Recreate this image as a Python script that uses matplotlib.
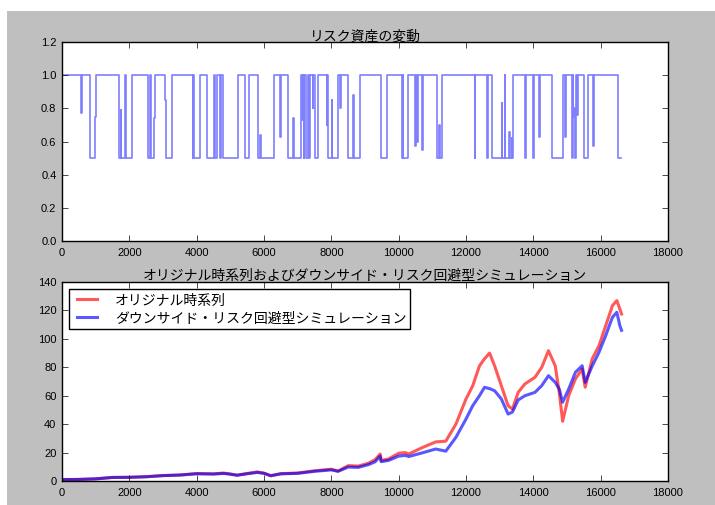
import matplotlib
matplotlib.use("Agg")
import matplotlib.pyplot as plt
from matplotlib.patches import Rectangle

plt.style.use("classic")
plt.rcParams["font.family"] = ["Liberation Sans", "Noto Sans CJK JP", "DejaVu Sans"]

# --- risk-asset weight: level changes (day index, new level) ---
risk_days = [0, 570, 600, 830, 980, 1000, 1700, 1740, 1760, 1860, 1910, 2080,
             2540, 2620, 2650, 2740, 2760, 3060, 3075, 3270, 3880, 3900, 3920,
             4100, 4300, 4520, 4550, 4600, 4700, 4720, 4770, 5240, 5430, 5540,
             5830, 5880, 5900, 6290, 6475, 6495, 6720, 6870, 6890, 7110, 7130,
             7150, 7180, 7200, 7260, 7300, 7330, 7380, 7450, 7470, 7515, 7614,
             7860, 7880, 7910, 8010, 8030, 8210, 8260, 8280, 8500, 8650, 8670,
             8850, 9490, 9640, 10090, 10120, 10140, 10290, 10480, 10500, 10540,
             10560, 10690, 10730, 11130, 11200, 11220, 11280, 12260, 12280,
             12610, 12660, 12760, 13060, 13080, 13150, 13170, 13280, 13300,
             13360, 13380, 13400, 13750, 13780, 14000, 14030, 14170, 14190,
             14540, 14890, 14940, 14960, 15150, 15170, 15190, 15220, 15240,
             15270, 15290, 15320, 15500, 15630, 15780, 15800, 16500, 16600]
risk_levels = [1.0, 0.77, 1.0, 0.5, 0.75, 1.0, 0.5, 0.79, 0.5, 1.0, 0.5, 1.0,
               0.5, 1.0, 0.5, 0.74, 1.0, 0.85, 0.5, 1.0, 0.5, 1.0, 0.5,
               1.0, 0.5, 1.0, 0.5, 1.0, 0.5, 1.0, 0.5, 1.0, 0.5, 1.0,
               0.5, 0.64, 0.5, 1.0, 0.63, 1.0, 0.5, 0.74, 0.5, 1.0, 0.73,
               1.0, 0.5, 1.0, 0.5, 1.0, 0.5, 1.0, 0.8, 1.0, 0.5, 1.0,
               0.7, 1.0, 0.5, 0.85, 0.5, 1.0, 0.8, 1.0, 0.5, 0.88, 0.5,
               1.0, 0.5, 1.0, 0.5, 1.0, 0.5, 1.0, 0.57, 1.0, 0.6,
               1.0, 0.55, 1.0, 0.5, 0.7, 0.5, 1.0, 0.5, 1.0,
               0.5, 1.0, 0.5, 0.83, 0.5, 1.0, 0.5, 0.66, 0.5,
               0.62, 0.5, 1.0, 0.5, 1.0, 0.5, 1.0, 0.63, 1.0,
               0.5, 1.0, 0.63, 1.0, 0.5, 1.0, 0.75, 0.8, 0.5,
               1.0, 0.76, 1.0, 0.5, 1.0, 0.57, 1.0, 0.5, 0.5]

# --- original series vs. downside-risk-averse simulation ---
days = [0, 500, 1000, 1500, 2000, 2500, 3000, 3500, 4000, 4500, 4800, 5000,
        5200, 5500, 5800, 6000, 6200, 6500, 7000, 7500, 8000, 8200, 8500, 8800,
        9100, 9300, 9450, 9480, 9700, 10000, 10200, 10300, 10700, 11100, 11400,
        11700, 12000, 12200, 12400, 12550, 12700, 12850, 13050, 13250, 13380,
        13550, 13750, 14050, 14250, 14450, 14650, 14770, 14870, 15050, 15250,
        15450, 15540, 15750, 15950, 16150, 16350, 16480, 16570, 16620]
original = [1.0, 1.1, 1.5, 2.5, 2.6, 3.0, 3.8, 4.2, 5.2, 5.0, 5.6, 4.9,
            4.0, 5.3, 6.4, 5.5, 3.6, 5.2, 5.6, 7.2, 8.3, 7.0, 10.8, 10.5,
            12.5, 15.0, 19.0, 14.5, 15.5, 19.5, 20.0, 19.0, 23.5, 27.5, 28.0,
            40.0, 57.7, 67.0, 81.0, 86.0, 90.0, 81.0, 67.0, 53.0, 50.5,
            62.4, 68.3, 73.0, 80.0, 91.7, 81.0, 62.4, 42.0, 60.0, 71.8,
            78.8, 66.0, 86.0, 95.2, 109.3, 123.4, 126.9, 121.0, 117.5]
simulated = [1.0, 1.1, 1.5, 2.5, 2.6, 3.0, 3.8, 4.2, 5.1, 4.9, 5.3, 4.8,
             4.1, 5.1, 6.0, 5.4, 3.8, 5.0, 5.4, 6.8, 7.8, 6.8, 9.8, 9.6,
             11.5, 13.5, 17.5, 13.6, 14.5, 17.5, 18.0, 17.2, 19.8, 22.5, 21.0,
             30.7, 43.6, 53.0, 60.0, 65.9, 65.0, 63.5, 57.7, 47.1, 48.5,
             57.0, 60.0, 62.4, 67.1, 74.1, 69.4, 64.7, 55.4, 64.7, 76.5,
             81.1, 69.4, 81.0, 90.5, 102.3, 115.2, 118.7, 109.3, 106.0]

fig = plt.figure(figsize=(7.15, 5.06), dpi=100)
fig.patch.set_facecolor("white")
fig.patches.append(Rectangle((7 / 715, 0), 1, 494 / 506, transform=fig.transFigure,
                             facecolor="0.75", edgecolor="none", zorder=-10))

ax1 = fig.add_axes([62 / 715, 1 - 242 / 506, 606 / 715, 199 / 506])
ax2 = fig.add_axes([62 / 715, 1 - 482 / 506, 606 / 715, 199 / 506])

ax1.plot(risk_days, risk_levels, drawstyle="steps-post", color="b",
         alpha=0.5, lw=1.2)
ax1.set_xlim(0, 18000)
ax1.set_ylim(0, 1.2)
ax1.set_yticks([0.0, 0.2, 0.4, 0.6, 0.8, 1.0, 1.2])
ax1.set_title("リスク資産の変動", fontsize=10, pad=2)

ax2.plot(days, original, color="r", alpha=0.65, lw=2.2, label="オリジナル時系列")
ax2.plot(days, simulated, color="b", alpha=0.65, lw=2.2,
         label="ダウンサイド・リスク回避型シミュレーション")
ax2.set_xlim(0, 18000)
ax2.set_ylim(0, 140)
ax2.set_title("オリジナル時系列およびダウンサイド・リスク回避型シミュレーション",
              fontsize=10, pad=2)
leg = ax2.legend(loc="upper left", fontsize=10, handlelength=2.0,
                 handletextpad=1.0, borderpad=0.3, labelspacing=0.25,
                 borderaxespad=0.5, fancybox=False, shadow=False, numpoints=2)
leg.get_frame().set_edgecolor("black")

for ax in (ax1, ax2):
    ax.tick_params(labelsize=8, direction="in", top=True, right=True)
    ax.set_xticks(range(0, 18001, 2000))

fig.savefig("out.png", dpi=100, facecolor=fig.get_facecolor())
